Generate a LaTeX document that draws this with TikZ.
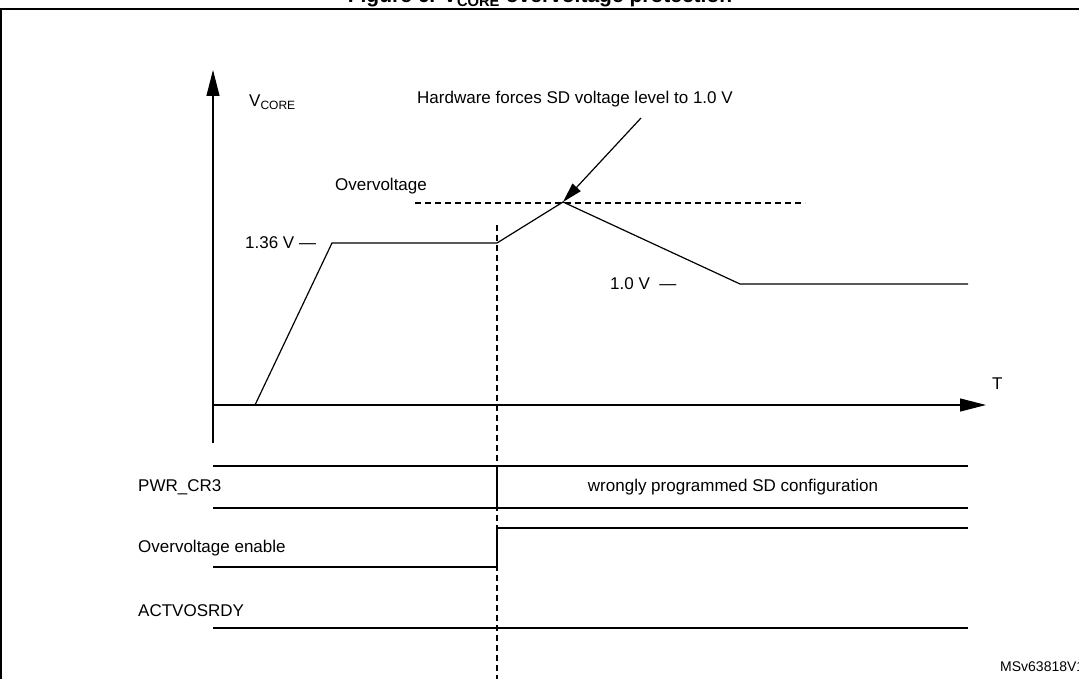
\documentclass[tikz,border=0pt]{standalone}
\usepackage{fontspec}
\setmainfont{Liberation Sans}
\usetikzlibrary{arrows.meta}
\begin{document}
\begin{tikzpicture}[x=1pt, y=-1pt, >={Triangle[length=26pt,width=13pt]},
    font=\fontsize{17}{20}\selectfont]

    % styles
    \tikzset{sig/.style={line width=1.2pt},
             guide/.style={dash pattern=on 6pt off 4pt, line width=1.1pt},
             lbl/.style={inner sep=0pt, anchor=west}}

    \useasboundingbox (0,0) rectangle (1079,679);
    \clip (0,0) rectangle (1079,679);

    % title and frame
    \node[font=\fontsize{21}{23}\selectfont\bfseries, anchor=base] (title) at (540,3) {Figure 6. V\textsubscript{CORE} overvoltage protection};
    \draw[line width=1.5pt] (1,700) -- (1,9) -- (1100,9);

    % axes
    \coordinate (o) at (213,405);
    \coordinate (ytop) at (213,70);
    \coordinate (ybot) at (213,443);
    \coordinate (xend) at (986,405);
    \draw[sig,->] (ybot) -- (ytop);
    \draw[sig,->] (o) -- (xend);
    \node[lbl] (vcore) at (249,102) {V\textsubscript{\fontsize{12}{13}\selectfont CORE}};
    \node[lbl] (t) at (992,384) {T};

    % waveform
    \coordinate (w0) at (255,405);
    \coordinate (w1) at (332,243);
    \coordinate (w2) at (497,243);
    \coordinate (w3) at (563,202);
    \coordinate (w4) at (740,284);
    \coordinate (w5) at (968,284);
    \draw[sig] (w0) -- (w1) -- (w2) -- (w3) -- (w4) -- (w5);

    % levels
    \node[lbl] (v136) at (245,243) {1.36 V ---};
    \node[lbl] (v10) at (610,284) {1.0 V \ ---};
    \node[lbl] (ov) at (335,186) {Overvoltage};
    \coordinate (ovl) at (415,203);
    \coordinate (ovr) at (805,203);
    \draw[guide] (ovl) -- (ovr);

    % hardware note
    \node[lbl] (hw) at (417,99) {Hardware forces SD voltage level to 1.0 V};
    \coordinate (hwtail) at (641,118);
    \draw[sig,-{Triangle[length=20pt,width=11pt]}] (hwtail) -- (w3);

    % event line
    \coordinate (ev0) at (497,225);
    \coordinate (ev1) at (497,700);
    \draw[guide] (ev0) -- (ev1);

    % PWR_CR3
    \node[lbl] (pwr) at (138,487) {PWR\_CR3};
    \draw[sig] (213,466) -- (968,466);
    \draw[sig] (213,508) -- (968,508);
    \draw[sig] (497,466) -- (497,508);
    \node (wrong) at (733,487) {wrongly programmed SD configuration};

    % Overvoltage enable
    \node[lbl] (oven) at (138,548) {Overvoltage enable};
    \draw[sig] (213,567) -- (497,567) -- (497,528) -- (968,528);

    % ACTVOSRDY
    \node[lbl] (rdy) at (138,611) {ACTVOSRDY};
    \draw[sig] (213,628) -- (968,628);

    \node[lbl, font=\fontsize{14}{16}\selectfont] (id) at (1000,667) {MSv63818V1};

\end{tikzpicture}
\end{document}
